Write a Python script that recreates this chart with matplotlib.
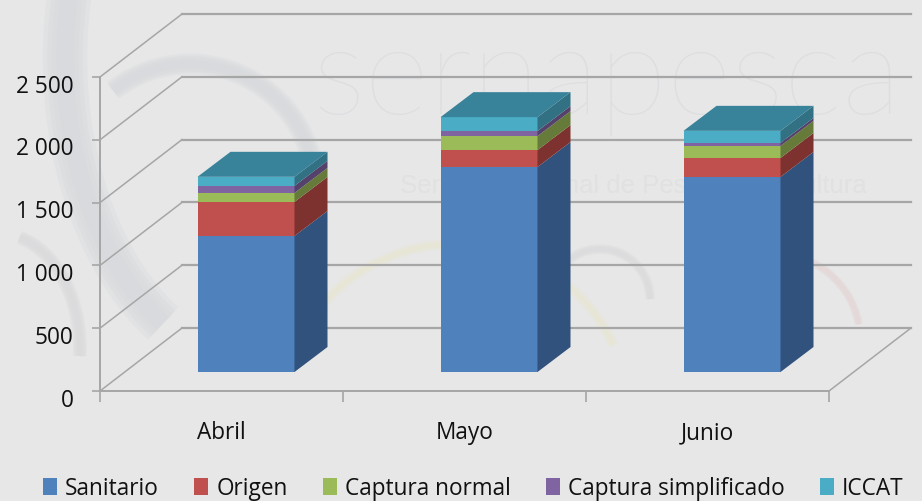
import numpy as np
import matplotlib
matplotlib.use("Agg")
import matplotlib.pyplot as plt
from matplotlib.patches import Polygon, Arc
from matplotlib.transforms import ScaledTranslation

months = ["Abril", "Mayo", "Junio"]
series_names = ["Sanitario", "Origen", "Captura normal", "Captura simplificado", "ICCAT"]
sanitario = [1083, 1632, 1553]
origen = [271, 135, 151]
captura_normal = [72, 111, 96]
captura_simplificado = [56, 40, 24]
iccat = [72, 111, 96]
y_ticks = [0, 500, 1000, 1500, 2000, 2500]
y_labels = ["0", "500", "1 000", "1 500", "2 000", "2 500"]

front_colors = ["#4F81BD", "#C0504D", "#9BBB59", "#8064A2", "#4BACC6"]
side_colors = ["#30527C", "#7E3230", "#667B3A", "#54426B", "#317183"]
top_color = "#38839A"
grid_color = "#A6A6A6"
bg_color = "#E7E7E7"
text_color = "#111111"

plt.rcParams["font.family"] = ["Open Sans", "DejaVu Sans"]

W, H = 922, 502
fig = plt.figure(figsize=(W / 100, H / 100), dpi=100, facecolor=bg_color)

# faint watermark behind the chart, in pixels
bg = fig.add_axes([0, 0, 1, 1], zorder=0)
bg.set_xlim(0, W)
bg.set_ylim(H, 0)
bg.axis("off")
bg.text(312, 114, "sernapesca", fontsize=90, color="#DDDEE1", ha="left", va="baseline", family="Lato", weight="light")
bg.text(400, 186, "Servicio Nacional de Pesca y Acuicultura", fontsize=18.5, color="#E0E1E1",
        ha="left", va="center", family="Liberation Sans")


def soft_arc(cx, cy, w, h, t1, t2, lw, color):
    # a few see-through passes so the edges fade like the blurred logo
    for f in [1.0, 0.8, 0.6, 0.4]:
        bg.add_patch(Arc((cx, cy), w, h, theta1=t1, theta2=t2, lw=lw * f, color=color, alpha=0.3))


soft_arc(270, 60, 410, 620, 112, 205, 32, "#D6D8DC")
soft_arc(190, 190, 250, 250, 232, 355, 15, "#D6D8DC")
soft_arc(0, 350, 160, 230, 280, 365, 10, "#D9D9DC")
soft_arc(600, 300, 100, 100, 210, 360, 7, "#DADADD")
soft_arc(775, 340, 170, 170, 255, 350, 6, "#E4D4D6")
soft_arc(455, 420, 350, 350, 205, 335, 7, "#EAE6D2")

# value/category axes laid over the whole figure
ax = fig.add_axes([0, 0, 1, 1], zorder=1)
ax.patch.set_alpha(0)
x0_px, cat_px = 100, 243.0
y0_px, val_px = 392, 62.8 / 500
ax.set_xlim(-0.5 - x0_px / cat_px, -0.5 + (W - x0_px) / cat_px)
ax.set_ylim(-(H - y0_px) / val_px, y0_px / val_px)


def dx(px):
    return px / cat_px


def dy(px):
    return px / val_px


# walls and floor
wall_dx, wall_dy = dx(82), dy(63)
for v in y_ticks:
    ax.plot([-0.5, -0.5 + wall_dx], [v, v + wall_dy], color=grid_color, lw=1.1, zorder=1)
    ax.plot([-0.5 + wall_dx, 2.5 + wall_dx], [v + wall_dy, v + wall_dy], color=grid_color, lw=1.6, zorder=1)
ax.plot([2.5, 2.5 + wall_dx], [0, wall_dy], color=grid_color, lw=1.1, zorder=1)

# stacked bars sit part way into the depth
shift_x, shift_y = dx(24.5), dy(19)
bar_w = dx(97)
depth_x, depth_y = dx(33), dy(25)
x = np.arange(len(months))
stack = [sanitario, origen, captura_normal, captura_simplificado, iccat]
bottom = np.zeros(len(months))
for vals, name, fc, sc in zip(stack, series_names, front_colors, side_colors):
    vals = np.array(vals, dtype=float)
    ax.bar(x + shift_x, vals, bar_w, bottom=bottom + shift_y, color=fc, label=name, zorder=3, lw=0)
    for xi, v, b in zip(x, vals, bottom):
        xr = xi + shift_x + bar_w / 2
        yb = b + shift_y
        ax.add_patch(Polygon([(xr, yb), (xr + depth_x, yb + depth_y),
                              (xr + depth_x, yb + v + depth_y), (xr, yb + v)],
                             closed=True, fc=sc, lw=0, zorder=3))
    bottom = bottom + vals
for xi, b in zip(x, bottom):
    xl = xi + shift_x - bar_w / 2
    xr = xi + shift_x + bar_w / 2
    yt = b + shift_y
    ax.add_patch(Polygon([(xl, yt), (xr, yt), (xr + depth_x, yt + depth_y), (xl + depth_x, yt + depth_y)],
                         closed=True, fc=top_color, lw=0, zorder=3))

for s in ["top", "right"]:
    ax.spines[s].set_visible(False)
ax.spines["left"].set_position(("data", -0.5))
ax.spines["left"].set_bounds(0, 2500)
ax.spines["bottom"].set_position(("data", 0))
ax.spines["bottom"].set_bounds(-0.5, 2.5)
for s in ["left", "bottom"]:
    ax.spines[s].set_color(grid_color)
    ax.spines[s].set_linewidth(1.4)
ax.set_yticks(y_ticks)
ax.set_yticklabels(y_labels, fontsize=16.3, color=text_color)
ax.tick_params(axis="y", length=6, width=1.2, color=grid_color, pad=13)
# the labels sit a little under their ticks in the reference
label_shift = ScaledTranslation(0, -4 / 72, fig.dpi_scale_trans)
for lab in ax.get_yticklabels():
    lab.set_transform(lab.get_transform() + label_shift)
ax.set_xticks([-0.5, 0.5, 1.5, 2.5])
ax.set_xticklabels([])
ax.set_xticks(x, labels=months, minor=True)
ax.tick_params(axis="x", which="major", length=8, width=1.2, color=grid_color, direction="out")
ax.tick_params(axis="x", which="minor", length=0, pad=21, labelsize=16.3, labelcolor=text_color)

ax.legend(loc="center left", bbox_to_anchor=(43 / W, 1 - 489 / H), bbox_transform=fig.transFigure,
          ncol=5, frameon=False, fontsize=16.3, handlelength=0.62, handleheight=0.78, handletextpad=0.36,
          columnspacing=1.55, borderpad=0, borderaxespad=0, labelcolor=text_color)

fig.savefig("out.png", dpi=100, facecolor=bg_color)
